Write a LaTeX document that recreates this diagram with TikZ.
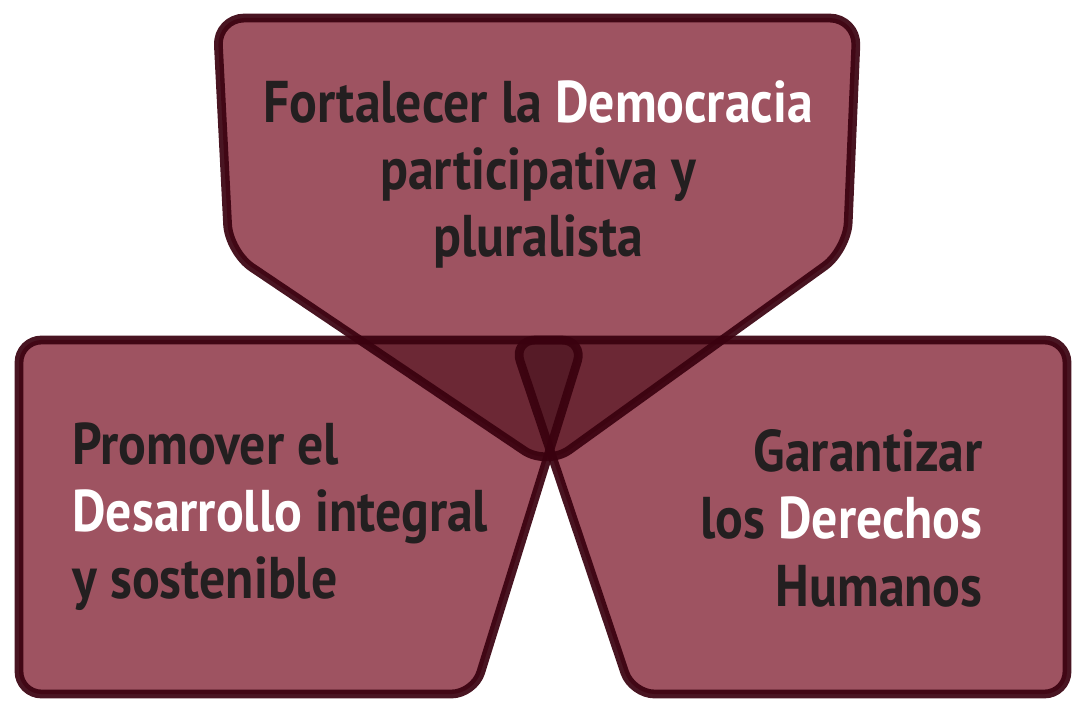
\documentclass[tikz,border=0pt]{standalone}
\usepackage{fontspec}
\setmainfont{PT Sans}[FakeStretch=0.88]
\definecolor{wine}{RGB}{158,83,97}
\definecolor{winetwo}{RGB}{108,40,53}
\definecolor{winethree}{RGB}{86,27,39}
\definecolor{wineline}{RGB}{58,1,15}
\definecolor{ink}{RGB}{35,31,32}

\def\toppetal{(217,18) -- (857,18) -- (847,250) -- (547,466) -- (229,252) -- cycle}
\def\leftpetal{(19,340) -- (584,340) -- (474,694) -- (19,694) -- cycle}
\def\rightpetal{(513,340) -- (1067,340) -- (1067,694) -- (632,694) -- cycle}

\begin{document}
\begin{tikzpicture}[x=0.02cm,y=-0.02cm,line width=5pt,
  tp/.style={rounded corners=0.55cm},
  sp/.style={rounded corners=0.45cm},
  rim/.style={draw=wineline,draw opacity=0.92,line join=round},
  lbl/.style={text=ink,inner sep=0pt,font=\fontsize{33.5}{38}\bfseries}]
  \useasboundingbox (0,0) rectangle (1072,702);
  % three petals, overlaps darker
  \fill[wine,tp] \toppetal;
  \fill[wine,sp] \leftpetal;
  \fill[wine,sp] \rightpetal;
  \begin{scope}
    \clip[sp] \leftpetal;
    \fill[winetwo,sp] \rightpetal;
  \end{scope}
  \begin{scope}
    \clip[tp] \toppetal;
    \fill[winetwo,sp] \leftpetal;
    \fill[winetwo,sp] \rightpetal;
    \clip[sp] \leftpetal;
    \fill[winethree,sp] \rightpetal;
  \end{scope}
  \draw[rim,tp] \toppetal;
  \draw[rim,sp] \leftpetal;
  \draw[rim,sp] \rightpetal;
  % labels
  \foreach \txt [count=\i] in {Fortalecer la \textcolor{white}{Democracia},participativa y,pluralista}{%
    \node[lbl,anchor=base] (T-\i) at (538,{123+67*(\i-1)}) {\txt};
  }
  \foreach \txt [count=\i] in {Promover el,\textcolor{white}{Desarrollo} integral,y sostenible}{%
    \node[lbl,anchor=base west] (L-\i) at (68,{464+67*(\i-1)}) {\txt};
  }
  \foreach \txt [count=\i] in {Garantizar,los \textcolor{white}{Derechos},Humanos}{%
    \node[lbl,anchor=base east] (R-\i) at (987,{472+67*(\i-1)}) {\txt};
  }
\end{tikzpicture}
\end{document}
